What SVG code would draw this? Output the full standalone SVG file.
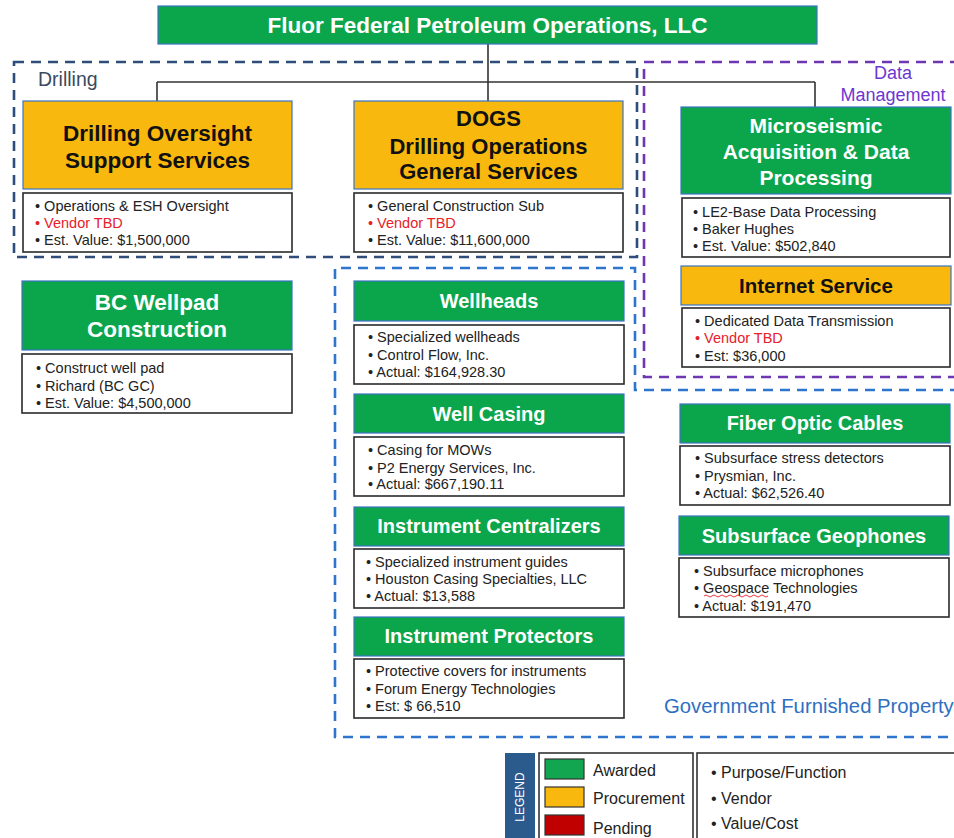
<svg xmlns="http://www.w3.org/2000/svg" width="954" height="838" viewBox="0 0 954 838">
<style>
  .g{fill:#0BA54B;stroke:#3A74C4;stroke-width:1.2}
  .o{fill:#F9B80E;stroke:#3A74C4;stroke-width:1.2}
  .d{fill:#fff;stroke:#2a2a2a;stroke-width:1.6}
  .hw{font-family:"Liberation Sans",Arial,sans-serif;font-weight:bold;fill:#fff;text-anchor:middle}
  .hb{font-family:"Liberation Sans",Arial,sans-serif;font-weight:bold;fill:#111;text-anchor:middle}
  .t{font-family:"Liberation Sans",Arial,sans-serif;font-size:14.5px;fill:#222}
  .r{fill:#E8202A}
  .lbl{font-family:"Liberation Sans",Arial,sans-serif}
  .conn{fill:none;stroke:#333;stroke-width:1.6}
</style>
<rect width="954" height="838" fill="#fff"/>

<!-- group boundaries -->
<g id="group-boxes" fill="none" stroke-width="2.6" stroke-dasharray="10 7">
  <rect id="drilling-area" x="14" y="62" width="623" height="195" stroke="#2F4D7A"/>
  <path id="data-mgmt-area" d="M960,62 H644 V377 H960" stroke="#6E36B2"/>
  <path id="gfp-area" d="M960,390 H635 V268 H335 V737 H960" stroke="#2E75CF"/>
</g>
<text class="lbl" x="38" y="86" font-size="19.5" fill="#3B4A5C">Drilling</text>
<text class="lbl" x="893" y="79" font-size="18" fill="#6E36D0" text-anchor="middle">Data</text>
<text class="lbl" x="893" y="101" font-size="18" fill="#6E36D0" text-anchor="middle">Management</text>
<text class="lbl" x="664" y="713" font-size="20.3" fill="#2E6FC2">Government Furnished Property</text>

<!-- connectors -->
<g id="connectors">
  <path class="conn" d="M488,44 V101"/>
  <path class="conn" d="M157,82 H815"/>
  <path class="conn" d="M157,82 V101"/>
  <path class="conn" d="M815,82 V107"/>
</g>

<!-- top node -->
<g id="node-fluor">
  <rect class="g" x="158" y="6" width="659" height="38"/>
  <text class="hw" x="487.5" y="33" font-size="22.5">Fluor Federal Petroleum Operations, LLC</text>
</g>

<g id="node-drilling-oversight">
  <rect class="o" x="23" y="101" width="269" height="88"/>
  <text class="hb" x="157.5" y="141" font-size="22.5">Drilling Oversight</text>
  <text class="hb" x="157.5" y="168" font-size="22.5">Support Services</text>
  <rect class="d" x="23" y="193" width="269" height="59"/>
  <text class="t" x="35" y="211">• Operations &amp; ESH Oversight</text>
  <text class="t r" x="35" y="228">• Vendor TBD</text>
  <text class="t" x="35" y="245">• Est. Value: $1,500,000</text>
</g>

<g id="node-dogs">
  <rect class="o" x="354" y="101" width="269" height="88"/>
  <text class="hb" x="488.5" y="126" font-size="22">DOGS</text>
  <text class="hb" x="488.5" y="154" font-size="22">Drilling Operations</text>
  <text class="hb" x="488.5" y="179" font-size="22">General Services</text>
  <rect class="d" x="354" y="193" width="269" height="59"/>
  <text class="t" x="368" y="211">• General Construction Sub</text>
  <text class="t r" x="368" y="228">• Vendor TBD</text>
  <text class="t" x="368" y="245">• Est. Value: $11,600,000</text>
</g>

<g id="node-microseismic">
  <rect class="g" x="681" y="107" width="270" height="87"/>
  <text class="hw" x="816" y="133" font-size="21">Microseismic</text>
  <text class="hw" x="816" y="159" font-size="21">Acquisition &amp; Data</text>
  <text class="hw" x="816" y="185" font-size="21">Processing</text>
  <rect class="d" x="682" y="198" width="268" height="59"/>
  <text class="t" x="693" y="217">• LE2-Base Data Processing</text>
  <text class="t" x="693" y="234">• Baker Hughes</text>
  <text class="t" x="693" y="251">• Est. Value: $502,840</text>
</g>

<g id="node-internet">
  <rect class="o" x="681" y="266" width="270" height="39"/>
  <text class="hb" x="816" y="293" font-size="20.5">Internet Service</text>
  <rect class="d" x="682" y="308" width="268" height="59"/>
  <text class="t" x="695" y="326">• Dedicated Data Transmission</text>
  <text class="t r" x="695" y="343">• Vendor TBD</text>
  <text class="t" x="695" y="361">• Est: $36,000</text>
</g>

<g id="node-bc-wellpad">
  <rect class="g" x="22" y="281" width="270" height="69"/>
  <text class="hw" x="157" y="310" font-size="22.5">BC Wellpad</text>
  <text class="hw" x="157" y="337" font-size="22.5">Construction</text>
  <rect class="d" x="22" y="354" width="270" height="59"/>
  <text class="t" x="36" y="373">• Construct well pad</text>
  <text class="t" x="36" y="391">• Richard (BC GC)</text>
  <text class="t" x="36" y="408">• Est. Value: $4,500,000</text>
</g>

<g id="node-wellheads">
  <rect class="g" x="354" y="281" width="270" height="40"/>
  <text class="hw" x="489" y="308" font-size="20">Wellheads</text>
  <rect class="d" x="354" y="325" width="270" height="59"/>
  <text class="t" x="368" y="342">• Specialized wellheads</text>
  <text class="t" x="368" y="360">• Control Flow, Inc.</text>
  <text class="t" x="368" y="377">• Actual: $164,928.30</text>
</g>

<g id="node-well-casing">
  <rect class="g" x="354" y="394" width="270" height="39"/>
  <text class="hw" x="489" y="421" font-size="20">Well Casing</text>
  <rect class="d" x="354" y="437" width="270" height="59"/>
  <text class="t" x="368" y="455">• Casing for MOWs</text>
  <text class="t" x="368" y="473">• P2 Energy Services, Inc.</text>
  <text class="t" x="368" y="489">• Actual: $667,190.11</text>
</g>

<g id="node-centralizers">
  <rect class="g" x="354" y="507" width="270" height="39"/>
  <text class="hw" x="489" y="533" font-size="20">Instrument Centralizers</text>
  <rect class="d" x="354" y="549" width="270" height="59"/>
  <text class="t" x="366" y="567">• Specialized instrument guides</text>
  <text class="t" x="366" y="584">• Houston Casing Specialties, LLC</text>
  <text class="t" x="366" y="601">• Actual: $13,588</text>
</g>

<g id="node-protectors">
  <rect class="g" x="354" y="617" width="270" height="39"/>
  <text class="hw" x="489" y="643" font-size="20">Instrument Protectors</text>
  <rect class="d" x="354" y="659" width="270" height="59"/>
  <text class="t" x="366" y="676">• Protective covers for instruments</text>
  <text class="t" x="366" y="694">• Forum Energy Technologies</text>
  <text class="t" x="366" y="711">• Est: $ 66,510</text>
</g>

<g id="node-fiber-optic">
  <rect class="g" x="680" y="404" width="270" height="39"/>
  <text class="hw" x="815" y="430" font-size="20">Fiber Optic Cables</text>
  <rect class="d" x="680" y="446" width="270" height="59"/>
  <text class="t" x="695" y="463">• Subsurface stress detectors</text>
  <text class="t" x="695" y="481">• Prysmian, Inc.</text>
  <text class="t" x="695" y="498">• Actual: $62,526.40</text>
</g>

<g id="node-geophones">
  <rect class="g" x="679" y="516" width="270" height="39"/>
  <text class="hw" x="814" y="543" font-size="20">Subsurface Geophones</text>
  <rect class="d" x="679" y="558" width="270" height="59"/>
  <text class="t" x="694" y="576">• Subsurface microphones</text>
  <text class="t" x="694" y="593">• Geospace Technologies</text>
  <text class="t" x="694" y="611">• Actual: $191,470</text>
  <path d="M704,596 q2,-2 4,0 t4,0 t4,0 t4,0 t4,0 t4,0 t4,0 t4,0 t4,0 t4,0 t4,0 t4,0 t4,0 t4,0 t4,0 t4,0" fill="none" stroke="#E8202A" stroke-width="0.9"/>
</g>

<!-- legend -->
<g id="legend">
  <rect x="505" y="753" width="30" height="90" fill="#2B5A8C"/>
  <text class="lbl" transform="translate(524,797) rotate(-90)" font-size="12" fill="#fff" text-anchor="middle">LEGEND</text>
  <rect x="539" y="753" width="154" height="90" fill="#fff" stroke="#333" stroke-width="1.6"/>
  <rect x="545" y="759" width="39" height="20" fill="#13A650" stroke="#333" stroke-width="1.2"/>
  <rect x="545" y="787" width="39" height="20" fill="#F9B80E" stroke="#333" stroke-width="1.2"/>
  <rect x="545" y="815" width="39" height="20" fill="#C00000" stroke="#333" stroke-width="1.2"/>
  <text class="lbl" x="593" y="776" font-size="16" fill="#222">Awarded</text>
  <text class="lbl" x="593" y="804" font-size="16" fill="#222">Procurement</text>
  <text class="lbl" x="593" y="834" font-size="16" fill="#222">Pending</text>
  <rect x="697" y="753" width="270" height="90" fill="#fff" stroke="#333" stroke-width="1.6"/>
  <text class="lbl" x="711" y="778" font-size="16" fill="#222">• Purpose/Function</text>
  <text class="lbl" x="711" y="804" font-size="16" fill="#222">• Vendor</text>
  <text class="lbl" x="711" y="829" font-size="16" fill="#222">• Value/Cost</text>
</g>
</svg>
